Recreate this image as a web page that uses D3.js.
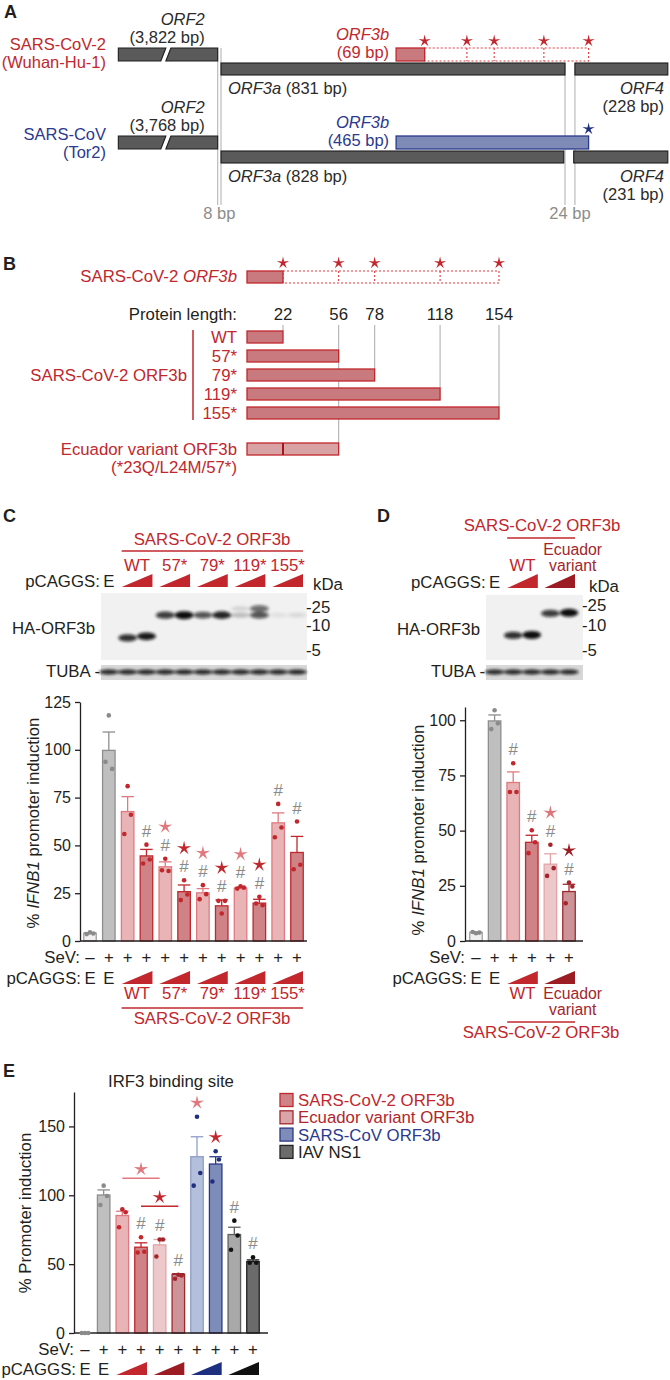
<!DOCTYPE html>
<html><head><meta charset="utf-8">
<script src="https://cdn.jsdelivr.net/npm/d3@7/dist/d3.min.js"></script>
<style>html,body{margin:0;padding:0;background:#fff}svg{display:block}</style>
</head><body>
<script>
// ===================== DATA =====================
// Panel A – genome schematic (bp, offsets relative to the ORF3a start codon)
const aGenomes = ["SARS-CoV-2", "SARS-CoV"];
const aStrains = ["(Wuhan-Hu-1)", "(Tor2)"];
const aOrf2Len = [3822, 3768];
const aOrf3aLen = [831, 828];
const aOrf4Len = [228, 231];
const aOrf3bLen = [69, 465];
const aGap1 = 8;          // bp between ORF2 and ORF3a
const aGap2 = 24;         // bp between ORF3a and ORF4
const aOrf3bOffset = 423; // bp, ORF3b start inside ORF3a
const stopAA = [22, 56, 78, 118, 154];

// Panel B
const bLabels = ["WT", "57*", "79*", "119*", "155*"];
const bLengths = [22, 56, 78, 118, 154];
const bEcuadorLen = 56;
const bEcuadorMut = 22;

// Panel C
const cGroups = ["mock","E","WT","WT","57*","57*","79*","79*","119*","119*","155*","155*"];
const cDose   = [0,0,1,2,1,2,1,2,1,2,1,2];
const cMeans  = [4.0, 99.7, 67.7, 44.5, 38.8, 25.8, 25.2, 18.4, 27.5, 19.8, 61.8, 46.3];
const cSEM    = [0.4, 9.6, 7.8, 3.4, 2.6, 3.5, 2.2, 3.1, 0.5, 2.0, 5.2, 8.4];
const cDots   = [[4.5,3.6,3.9],[118,93.7,90],[81,56,66],[50.4,40.5,42.6],[43,37,36.6],[31.8,21.4,24.3],
                 [29.2,21.9,24.5],[14.4,21,21],[28.6,27.4,27.9],[23.1,19.6,18.7],[71.7,54.3,59.4],[62.5,37.5,39.9]];
const cHash   = [0,0,0,1,1,1,1,1,1,1,1,1];
const cStar   = ["","","","","lo","hi","lo","hi","lo","hi","",""];
const cTicks  = [0,25,50,75,100,125];
const cBandLane   = [2,3,4,5,6,7,8,9,8,9,10,11];
const cBandKDa    = [7,7.3,16.5,16.5,16.5,16.5,16.5,16.5,23,23,16.5,16.5];
const cBandSignal = [0.85,0.95,0.8,1.0,0.7,0.9,0.22,0.7,0.12,0.6,0.07,0.1];

// Panel D
const dGroups = ["mock","E","WT","WT","Ecuador","Ecuador"];
const dDose   = [0,0,1,2,1,2];
const dMeans  = [3.8, 99.7, 71.8, 44.7, 34.8, 22.4];
const dSEM    = [0.3, 2.7, 4.8, 3.2, 4.7, 3.3];
const dDots   = [[3.5,4.1,3.8],[104.5,96,98.6],[80.5,67.5,67.5],[50.2,39.8,44.7],[43.6,29.5,33],[26.5,17.1,24.7]];
const dHash   = [0,0,1,1,1,1];
const dStar   = ["","","","","ecoLo","ecoHi"];
const dTicks  = [0,25,50,75,100];
const dBandLane   = [2,3,4,5];
const dBandKDa    = [7.5,7.6,17,17.5];
const dBandSignal = [0.85,1.0,0.8,1.0];

// Panel E
const eGroups = ["mock","E","WT","WT","Ecuador","Ecuador","SARS-CoV","SARS-CoV","NS1","NS1"];
const eDose   = [0,0,1,2,1,2,1,2,1,2];
const eMeans  = [0, 100.2, 85.3, 62.3, 64.0, 42.5, 128.0, 122.7, 71.5, 51.9];
const eSEM    = [0, 3.7, 3.1, 3.2, 3.9, 0.6, 14.5, 5.3, 5.3, 1.2];
const eDots   = [[0,0,0],[107,93,99.5],[89.9,76.8,87.7],[69.5,58.5,59],[67.9,55.6,67.9],[42.3,39.4,41.8],
                 [157,107,116.2],[132,110,126],[81.6,60.4,70.8],[55,51,51]];
const eHash   = [0,0,0,1,1,1,0,0,1,1];
const eStar   = ["","","","","","","lo","hi","",""];
const eTicks  = [0,50,100,150];
const eCompare = [[2,4,"lo"],[3,5,"hi"]];
const eLegend = ["SARS-CoV-2 ORF3b","Ecuador variant ORF3b","SARS-CoV ORF3b","IAV NS1"];
const eLegendGroup = ["WT","Ecuador","SARS-CoV","NS1"];

// ===================== DRAWING =====================
const FONT = '"Liberation Sans", Arial, Helvetica, sans-serif';
const INK = "#231f20", RED = "#c1272d", PINK = "#e0787e", DRED = "#9b1c22",
      BLUE = "#2b3990", NAVY = "#1f2f80", GR = "#8a8a8a", DARK = "#2b2b2b";
const FS = 16.8;

const svg = d3.select("body").append("svg").attr("width",670).attr("height",1380)
  .attr("font-family",FONT);
svg.append("rect").attr("width",670).attr("height",1380).attr("fill","#fff");
const defs = svg.append("defs");
defs.append("filter").attr("id","blur").attr("x","-60%").attr("y","-120%").attr("width","220%").attr("height","340%")
  .append("feGaussianBlur").attr("stdDeviation",1.5);

function T(x,y,s,o={}){
  const t = svg.append("text").attr("x",x).attr("y",y)
    .attr("font-size",o.size||FS).attr("fill",o.fill||INK)
    .attr("text-anchor",o.anchor||"start");
  if(o.bold) t.attr("font-weight","bold");
  if(o.italic) t.attr("font-style","italic");
  if(o.rotate) t.attr("transform",`rotate(${o.rotate},${x},${y})`);
  if(Array.isArray(s)) s.forEach(p=>{const ts=t.append("tspan").text(p[0]); if(p[1]) ts.attr("font-style","italic");});
  else t.text(s);
  return t;
}
function line(x1,y1,x2,y2,c,w,dash){
  const l = svg.append("line").attr("x1",x1).attr("y1",y1).attr("x2",x2).attr("y2",y2)
    .attr("stroke",c).attr("stroke-width",w);
  if(dash) l.attr("stroke-dasharray",dash);
  return l;
}
function star(x,y,R,color){
  const r = R*0.3, pts=[];
  for(let k=0;k<10;k++){const a=-Math.PI/2+k*Math.PI/5, rr=k%2?r:R; pts.push([x+rr*Math.cos(a),y+rr*Math.sin(a)]);}
  svg.append("polygon").attr("points",pts.map(p=>p.join(",")).join(" ")).attr("fill",color);
}
function wedge(x0,x1,yb,yt,color){
  svg.append("polygon").attr("points",`${x0},${yb} ${x1},${yb} ${x1},${yt}`).attr("fill",color);
}
function style(group,dose){
  if(group==="mock") return {fill:"#f0f0f0",stroke:"#a0a0a0",dot:"#8a8a8a"};
  if(group==="E") return {fill:"#bfbfbf",stroke:"#8e8e8e",dot:"#8a8a8a"};
  if(group==="Ecuador") return dose===1?{fill:"#ecc8ca",stroke:"#e3a5a9",dot:"#a3262d"}:{fill:"#cc9498",stroke:"#9e2a2e",dot:"#a3262d"};
  if(group==="SARS-CoV") return dose===1?{fill:"#b4bfdc",stroke:"#8f9dca",dot:NAVY}:{fill:"#7e8cb9",stroke:"#2b3a86",dot:NAVY};
  if(group==="NS1") return dose===1?{fill:"#a9a9a9",stroke:"#5f5f5f",dot:"#111"}:{fill:"#6b6b6b",stroke:"#222",dot:"#111"};
  return dose===1?{fill:"#e8b4b6",stroke:"#e07a80",dot:RED}:{fill:"#d08387",stroke:RED,dot:RED};
}
const wedgeColor = {WT:RED,"57*":RED,"79*":RED,"119*":RED,"155*":RED,Ecuador:DRED,"SARS-CoV":NAVY,NS1:"#111"};
const starColor = {lo:PINK, hi:RED, ecoLo:"#d9777d", ecoHi:DRED};

// ---------- Panel A ----------
T(4,18,"A",{bold:true,size:18});
const aX = d3.scaleLinear().domain([0, aOrf3aLen[0]]).range([221, 565]);
const aRows = [{top:48, low:63, lab:50, o2:25, o3b:40, o3a:94}, {top:136, low:151, lab:140, o2:113, o3b:128, o3a:182}];
const aColors = [RED, BLUE];
const BH = 13;
// reference lines
[[-aGap1, 0, "8 bp"], [aOrf3aLen[0], aOrf3aLen[0]+aGap2, "24 bp"]].forEach(([b0,b1,lab],k)=>{
  line(aX(b0),k?63:48,aX(b0),205,"#b5b5b5",1.1);
  line(aX(b1),k?63:48,aX(b1),205,"#b5b5b5",1.1);
  T((aX(b0)+aX(b1))/2,219,lab,{anchor:"middle",fill:"#8c8c8c",size:16.5});
});
aGenomes.forEach((gname,i)=>{
  const r = aRows[i], c = aColors[i];
  T(106,r.lab,gname,{anchor:"end",fill:c,size:16.5});
  T(106,r.lab+18,aStrains[i],{anchor:"end",fill:c,size:16.5});
  // ORF2 (truncated, with break)
  const e2 = aX(-aGap1), s2 = aX(-aGap1-240), br = aX(-aGap1-130);
  const yT=r.top, yB=r.top+BH;
  svg.append("polygon").attr("points",`${s2},${yT} ${br+2},${yT} ${br-3},${yB} ${s2},${yB}`)
    .attr("fill","#5a5a5a").attr("stroke","#1e1e1e").attr("stroke-width",1.1);
  svg.append("polygon").attr("points",`${br+7},${yT} ${e2},${yT} ${e2},${yB} ${br+2},${yB}`)
    .attr("fill","#5a5a5a").attr("stroke","#1e1e1e").attr("stroke-width",1.1);
  T(e2-13,r.o2,"ORF2",{anchor:"end",italic:true,fill:DARK,size:16.5});
  T(e2-13,r.o2+18,`(${d3.format(",")(aOrf2Len[i])} bp)`,{anchor:"end",fill:DARK,size:16.5});
  // ORF3a
  svg.append("rect").attr("x",aX(0)).attr("y",r.low).attr("width",aX(aOrf3aLen[i])-aX(0)).attr("height",12)
    .attr("fill","#5a5a5a").attr("stroke","#1e1e1e").attr("stroke-width",1.1);
  T(aX(0)+7,r.o3a,[["ORF3a",true],[` (${aOrf3aLen[i]} bp)`,false]],{fill:DARK,size:16.5});
  // ORF4
  const s4 = aX(aOrf3aLen[i]+aGap2);
  svg.append("rect").attr("x",s4).attr("y",r.low).attr("width",aX(aOrf4Len[i])-aX(0)-1.5).attr("height",12)
    .attr("fill","#5a5a5a").attr("stroke","#1e1e1e").attr("stroke-width",1.1);
  T(664,r.o3a,"ORF4",{anchor:"end",italic:true,fill:DARK,size:16.5});
  T(664,r.o3a+18,`(${aOrf4Len[i]} bp)`,{anchor:"end",fill:DARK,size:16.5});
  // ORF3b
  const b0 = aX(aOrf3bOffset), b1 = aX(aOrf3bOffset+aOrf3bLen[i]);
  T(b0-7,r.o3b,"ORF3b",{anchor:"end",italic:true,fill:c,size:16.5});
  T(b0-7,r.o3b+18,`(${aOrf3bLen[i]} bp)`,{anchor:"end",fill:c,size:16.5});
  if(i===0){
    const end = aX(aOrf3bOffset+(stopAA[4]+1)*3);
    svg.append("rect").attr("x",b1).attr("y",yT).attr("width",end-b1).attr("height",BH)
      .attr("fill","none").attr("stroke","#e03a40").attr("stroke-width",1.1).attr("stroke-dasharray","2,2");
    stopAA.slice(1,4).forEach(a=>{const xx=aX(aOrf3bOffset+(a+1)*3); line(xx,yT,xx,yB,"#e03a40",1.1,"2,2");});
    svg.append("rect").attr("x",b0).attr("y",yT).attr("width",b1-b0).attr("height",BH)
      .attr("fill","#c97a7e").attr("stroke",RED).attr("stroke-width",1.3);
    stopAA.forEach(a=>star(aX(aOrf3bOffset+(a+1)*3),yT-7,6.5,RED));
  } else {
    svg.append("rect").attr("x",b0).attr("y",yT).attr("width",b1-b0).attr("height",BH)
      .attr("fill","#7d8bb6").attr("stroke","#2b3a8a").attr("stroke-width",1.3);
    star(b1,yT-7,6.5,NAVY);
  }
});

// ---------- Panel B ----------
T(3,270,"B",{bold:true,size:18});
const bX = d3.scaleLinear().domain([0,154]).range([247,499]);
const bRowTop = k => 331 + k*19;
T(237,282,[["SARS-CoV-2 ",false],["ORF3b",true]],{anchor:"end",fill:RED});
svg.append("rect").attr("x",bX(bLengths[0])).attr("y",271).attr("width",bX(154)-bX(bLengths[0])).attr("height",12)
  .attr("fill","none").attr("stroke","#e03a40").attr("stroke-width",1.1).attr("stroke-dasharray","2,2");
bLengths.slice(1,4).forEach(a=>line(bX(a),271,bX(a),283,"#e03a40",1.1,"2,2"));
svg.append("rect").attr("x",bX(0)).attr("y",271).attr("width",bX(bLengths[0])-bX(0)).attr("height",12)
  .attr("fill","#c97a7e").attr("stroke",RED).attr("stroke-width",1.3);
bLengths.forEach(a=>star(bX(a),263,6.5,RED));
T(237,320,"Protein length:",{anchor:"end"});
bLengths.forEach((a,k)=>{
  T(bX(a),320,String(a),{anchor:"middle"});
  const yEnd = a===bEcuadorLen ? 443 : bRowTop(k);
  line(bX(a),325,bX(a),yEnd,"#b8b8b8",1.2);
});
bLabels.forEach((lab,k)=>{
  svg.append("rect").attr("x",bX(0)).attr("y",bRowTop(k)).attr("width",bX(bLengths[k])-bX(0)).attr("height",12)
    .attr("fill","#c97a7e").attr("stroke",RED).attr("stroke-width",1.3);
  T(237,bRowTop(k)+12,lab,{anchor:"end",fill:RED});
});
line(193,bRowTop(0)-1,193,bRowTop(4)+13,RED,1.5);
T(187,381,"SARS-CoV-2 ORF3b",{anchor:"end",fill:RED});
svg.append("rect").attr("x",bX(0)).attr("y",443).attr("width",bX(bEcuadorLen)-bX(0)).attr("height",12)
  .attr("fill","#d9a3a6").attr("stroke",RED).attr("stroke-width",1.3);
line(bX(bEcuadorMut),443,bX(bEcuadorMut),455,"#a3161c",2);
T(237,455,"Ecuador variant ORF3b",{anchor:"end",fill:RED});
T(237,473,"(*23Q/L24M/57*)",{anchor:"end",fill:RED});

// ---------- generic helpers for C, D, E ----------
function drawBlot(o){
  const {x,lanes,x0,x1,y0,y1,tubaY0,kda,bandLane,bandKDa,bandSignal,markerX} = o;
  const step = x(1)-x(0);
  svg.append("rect").attr("x",x0).attr("y",y0).attr("width",x1-x0).attr("height",y1-y0).attr("fill","#f1f1f1");
  const gb = svg.append("g").attr("filter","url(#blur)");
  bandLane.forEach((ln,k)=>{
    gb.append("ellipse").attr("cx",x(ln)).attr("cy",kda(bandKDa[k])).attr("rx",step*0.5)
      .attr("ry",2.2+1.8*bandSignal[k]).attr("fill","#0d0d0d").attr("opacity",bandSignal[k]);
  });
  // TUBA
  svg.append("rect").attr("x",x0).attr("y",tubaY0).attr("width",x1-x0).attr("height",15).attr("fill","#d8d8d8");
  const gt = svg.append("g").attr("filter","url(#blur)");
  lanes.forEach(ln=>gt.append("ellipse").attr("cx",x(ln)).attr("cy",tubaY0+7).attr("rx",step*0.52).attr("ry",2.6)
    .attr("fill","#111").attr("opacity",0.9));
  T(x0-6,(y0+y1)/2+7,"HA-ORF3b",{anchor:"end"});
  T(x0-1,tubaY0+12,"TUBA -",{anchor:"end"});
  T(markerX+7,y0-3,"kDa",{});
  [25,10,5].forEach(m=>T(markerX,kda(m)+6,"-"+m,{}));
}
function drawChart(o){
  const {x,y,groups,dose,means,sems,dots,hash,stars,axisX,axisX1,ticks,bw} = o;
  const ax = svg.append("g").attr("transform",`translate(${axisX},0)`)
    .call(d3.axisLeft(y).tickValues(ticks).tickSize(5).tickSizeOuter(0).tickPadding(4));
  ax.attr("font-family",FONT).attr("font-size",16);
  ax.select(".domain").attr("stroke",INK).attr("stroke-width",1.3);
  ax.selectAll(".tick line").attr("stroke",INK).attr("stroke-width",1.3);
  ax.selectAll(".tick text").attr("fill",INK);
  const g = svg.append("g");
  means.forEach((m,i)=>{
    const s = style(groups[i],dose[i]);
    if(m>0) g.append("rect").attr("x",x(i)-bw/2).attr("y",y(m)).attr("width",bw).attr("height",y(0)-y(m))
      .attr("fill",s.fill).attr("stroke",s.stroke).attr("stroke-width",1.3);
    if(sems[i]>0){
      const yt = y(m+sems[i]);
      g.append("line").attr("x1",x(i)).attr("x2",x(i)).attr("y1",y(m)).attr("y2",yt).attr("stroke",s.stroke).attr("stroke-width",1.3);
      g.append("line").attr("x1",x(i)-bw*0.5).attr("x2",x(i)+bw*0.5).attr("y1",yt).attr("y2",yt).attr("stroke",s.stroke).attr("stroke-width",1.3);
    }
  });
  g.append("line").attr("x1",axisX).attr("x2",axisX1).attr("y1",y(0)).attr("y2",y(0)).attr("stroke",INK).attr("stroke-width",1.3);
  means.forEach((m,i)=>{
    const s = style(groups[i],dose[i]);
    dots[i].forEach((v,k)=>g.append("circle").attr("cx",x(i)+[0,-3.3,3.3][k]).attr("cy",y(v)).attr("r",2.3).attr("fill",s.dot));
    const top = Math.max(m+sems[i],...dots[i]);
    let yy = y(top)-14;
    if(hash[i]){ T(x(i),yy+6,"#",{anchor:"middle",fill:GR,size:17}); yy -= 18; }
    if(stars[i]) star(x(i),yy,7.5,starColor[stars[i]]);
  });
  // SeV row + pCAGGS row
  T(axisX,o.sevY,"SeV:",{anchor:"end"});
  means.forEach((m,i)=>T(x(i),o.sevY,i===0?"\u2013":"+",{anchor:"middle"}));
  T(x(0)-9,o.pcY,"pCAGGS:",{anchor:"end"});
  T(x(0),o.pcY,"E",{anchor:"middle"}); T(x(1),o.pcY,"E",{anchor:"middle"});
  for(let i=2;i<means.length;i+=2) wedge(x(i)-6,x(i+1)+6,o.pcY,o.pcY-13,wedgeColor[groups[i]]);
}

// ---------- Panel C ----------
T(3,522,"C",{bold:true,size:18});
const cX = d3.scalePoint().domain(d3.range(cMeans.length)).range([90,297]);
const cY = d3.scaleLinear().domain([0,125]).range([941,702]);
const cKDa = d3.scaleLog().domain([25,10,5]).range([607,625,650]);
// top labels
T(212,545,"SARS-CoV-2 ORF3b",{anchor:"middle",fill:RED});
line(cX(2)-6,551,cX(11)+6,551,RED,1.5);
for(let i=2;i<cGroups.length;i+=2){
  T((cX(i)+cX(i+1))/2,571,cGroups[i],{anchor:"middle",fill:RED});
  wedge(cX(i)-6,cX(i+1)+6,587,574,RED);
}
T(cX(1)-9,587,"pCAGGS:",{anchor:"end"}); T(cX(1),587,"E",{anchor:"middle"});
drawBlot({x:cX,lanes:d3.range(1,12),x0:101,x1:307,y0:593,y1:660,tubaY0:665,kda:cKDa,
  bandLane:cBandLane,bandKDa:cBandKDa,bandSignal:cBandSignal,markerX:306});
drawChart({x:cX,y:cY,groups:cGroups,dose:cDose,means:cMeans,sems:cSEM,dots:cDots,hash:cHash,stars:cStar,
  axisX:80,axisX1:307,ticks:cTicks,bw:12.5,sevY:963,pcY:984});
T(39,823,[["% ",false],["IFNB1",true],[" promoter induction",false]],{anchor:"middle",rotate:-90});
for(let i=2;i<cGroups.length;i+=2) T((cX(i)+cX(i+1))/2,999,cGroups[i],{anchor:"middle",fill:RED});
line(cX(2)-6,1008,cX(11)+6,1008,RED,1.5);
T(212,1024,"SARS-CoV-2 ORF3b",{anchor:"middle",fill:RED});

// ---------- Panel D ----------
T(377,522,"D",{bold:true,size:18});
const dX = d3.scalePoint().domain(d3.range(dMeans.length)).range([476,569]);
const dY = d3.scaleLinear().domain([0,106]).range([941,707]);
const dKDa = d3.scaleLog().domain([25,10,5]).range([605,625,650]);
T(542,531,"SARS-CoV-2 ORF3b",{anchor:"middle",fill:RED});
line(dX(2)-6,538,dX(5)+6,538,RED,1.5);
T((dX(2)+dX(3))/2,571,"WT",{anchor:"middle",fill:RED});
T((dX(4)+dX(5))/2+13,555,"Ecuador",{anchor:"middle",fill:"#a3262d",size:15.8});
T((dX(4)+dX(5))/2+13,571,"variant",{anchor:"middle",fill:"#a3262d",size:15.8});
wedge(dX(2)-6,dX(3)+6,588,574,RED); wedge(dX(4)-6,dX(5)+6,588,574,DRED);
T(dX(1)-9,588,"pCAGGS:",{anchor:"end"}); T(dX(1),588,"E",{anchor:"middle"});
drawBlot({x:dX,lanes:d3.range(1,6),x0:486,x1:583,y0:595,y1:660,tubaY0:665,kda:dKDa,
  bandLane:dBandLane,bandKDa:dBandKDa,bandSignal:dBandSignal,markerX:582});
drawChart({x:dX,y:dY,groups:dGroups,dose:dDose,means:dMeans,sems:dSEM,dots:dDots,hash:dHash,stars:dStar,
  axisX:465,axisX1:583,ticks:dTicks,bw:12.5,sevY:963,pcY:984});
T(424,830,[["% ",false],["IFNB1",true],[" promoter induction",false]],{anchor:"middle",rotate:-90});
T((dX(2)+dX(3))/2,999,"WT",{anchor:"middle",fill:RED});
T((dX(4)+dX(5))/2+13,999,"Ecuador",{anchor:"middle",fill:"#a3262d",size:15.8});
T((dX(4)+dX(5))/2+13,1015,"variant",{anchor:"middle",fill:"#a3262d",size:15.8});
line(dX(2)-6,1022,dX(5)+6,1022,RED,1.5);
T(541,1038,"SARS-CoV-2 ORF3b",{anchor:"middle",fill:RED});

// ---------- Panel E ----------
T(3,1077,"E",{bold:true,size:18});
const eX = d3.scalePoint().domain(d3.range(eMeans.length)).range([85,253]);
const eY = d3.scaleLinear().domain([0,175]).range([1333,1092]);
T(171,1087,"IRF3 binding site",{anchor:"middle"});
drawChart({x:eX,y:eY,groups:eGroups,dose:eDose,means:eMeans,sems:eSEM,dots:eDots,hash:eHash,stars:eStar,
  axisX:74,axisX1:268,ticks:eTicks,bw:12.5,sevY:1355,pcY:1375});
T(31,1213,"% Promoter induction",{anchor:"middle",rotate:-90});
eCompare.forEach(([a,b,k])=>{
  const top = d3.max(d3.range(a,b+1),i=>Math.max(eMeans[i]+eSEM[i],...eDots[i]));
  const yy = eY(top)-31;
  line(eX(a),yy,eX(b),yy,starColor[k],1.5);
  star((eX(a)+eX(b))/2,yy-9,7.5,starColor[k]);
});
const legTextColor = [RED,"#b0262c",BLUE,INK];
eLegend.forEach((lab,k)=>{
  const s = style(eLegendGroup[k],2);
  const yc = 1100 + k*17.3;
  svg.append("rect").attr("x",280).attr("y",yc-6.5).attr("width",13).attr("height",13)
    .attr("fill", k===1 ? "#d9a5a8" : s.fill).attr("stroke",s.stroke).attr("stroke-width",1.3);
  T(298,yc+6,lab,{fill:legTextColor[k]});
});
</script>
</body></html>
